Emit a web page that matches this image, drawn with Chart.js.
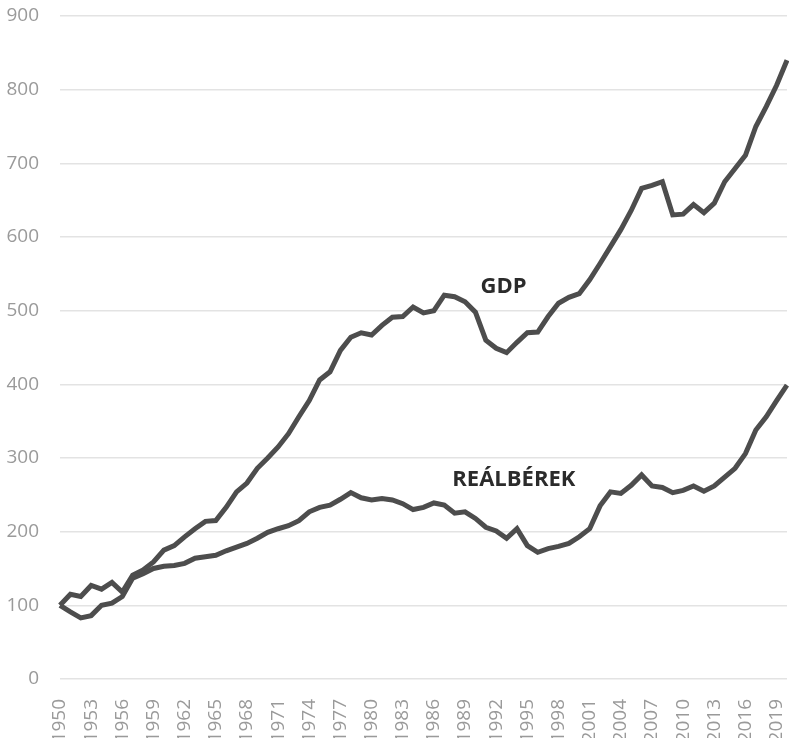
<!DOCTYPE html>
<html>
<head>
<meta charset="utf-8">
<script src="https://cdn.jsdelivr.net/npm/chart.js@4"></script>
<style>
html,body{margin:0;padding:0;background:#fff;}
#wrap{width:789px;height:738px;position:relative;}
</style>
</head>
<body>
<div id="wrap"><canvas id="c" width="789" height="738"></canvas></div>
<script>
const years = [];
for (let y = 1950; y <= 2020; y++) years.push(String(y));

const gdp = [100,115,112,127,122,131,118,141,148,159,175,181,193,204,214,215,233,254,266,286,300,315,333,356,378,406,417,446,464,470,467,480,491,492,505,497,500,521,519,512,498,460,449,443,457,470,471,492,510,518,523,542,564,587,610,636,666,670,675,630,631,644,633,646,675,693,711,750,777,806,840];
const realWages = [100,91,83,86,100,103,112,137,143,150,153,154,157,164,166,168,174,179,184,191,199,204,208,215,227,233,236,244,253,246,243,245,243,238,230,233,239,236,225,227,218,206,201,191,204,181,172,177,180,184,193,204,235,254,252,263,277,262,260,253,256,262,255,262,274,286,306,338,356,378,399];
const yTicks = [0,100,200,300,400,500,600,700,800,900];

const seriesLabels = [
  {text: 'GDP', year: 1992.7, value: 532},
  {text: 'REÁLBÉREK', year: 1993.7, value: 270}
];

const labelPlugin = {
  id: 'seriesLabels',
  afterDatasetsDraw(chart) {
    const {ctx, scales} = chart;
    ctx.save();
    ctx.font = 'bold 22px "Open Sans"';
    ctx.fillStyle = '#2b2b2b';
    ctx.textAlign = 'center';
    ctx.textBaseline = 'middle';
    seriesLabels.forEach(l => {
      const i = Math.floor(l.year - 1950);
      const x0 = scales.x.getPixelForValue(i);
      const x1 = scales.x.getPixelForValue(i + 1);
      const x = x0 + (x1 - x0) * ((l.year - 1950) - i);
      const y = scales.y.getPixelForValue(l.value);
      ctx.fillText(l.text, x, y);
    });
    ctx.restore();
  }
};

new Chart(document.getElementById('c'), {
  type: 'line',
  data: {
    labels: years,
    datasets: [
      {label: 'GDP', data: gdp, borderColor: '#4d4d4d', borderWidth: 5, pointRadius: 0, tension: 0, fill: false},
      {label: 'REÁLBÉREK', data: realWages, borderColor: '#4d4d4d', borderWidth: 5, pointRadius: 0, tension: 0, fill: false}
    ]
  },
  options: {
    responsive: false,
    animation: false,
    devicePixelRatio: 1,
    layout: {padding: {top: 16, right: 2, bottom: 0, left: 0}},
    plugins: {legend: {display: false}, tooltip: {enabled: false}},
    scales: {
      x: {
        offset: false,
        grid: {display: false},
        border: {display: false},
        afterFit(scale) { scale.height = 59; scale.paddingLeft = 0; scale.paddingRight = 0; },
        ticks: {
          autoSkip: false,
          minRotation: 90,
          maxRotation: 90,
          padding: 12,
          color: '#9a9a9a',
          font: {family: 'Open Sans', size: 19},
          callback(val, idx) { return (idx % 3 === 0) ? years[idx] : ''; }
        }
      },
      y: {
        min: 0,
        max: 900,
        afterBuildTicks(scale) { scale.ticks = yTicks.map(v => ({value: v})); },
        afterFit(scale) { scale.width = 60; scale.paddingTop = 0; scale.paddingBottom = 0; },
        grid: {color: '#e3e3e3', lineWidth: 1.5, drawTicks: false},
        border: {display: false},
        ticks: {
          padding: 21,
          color: '#9a9a9a',
          font: {family: 'Open Sans', size: 19}
        }
      }
    }
  },
  plugins: [labelPlugin]
});
</script>
</body>
</html>
